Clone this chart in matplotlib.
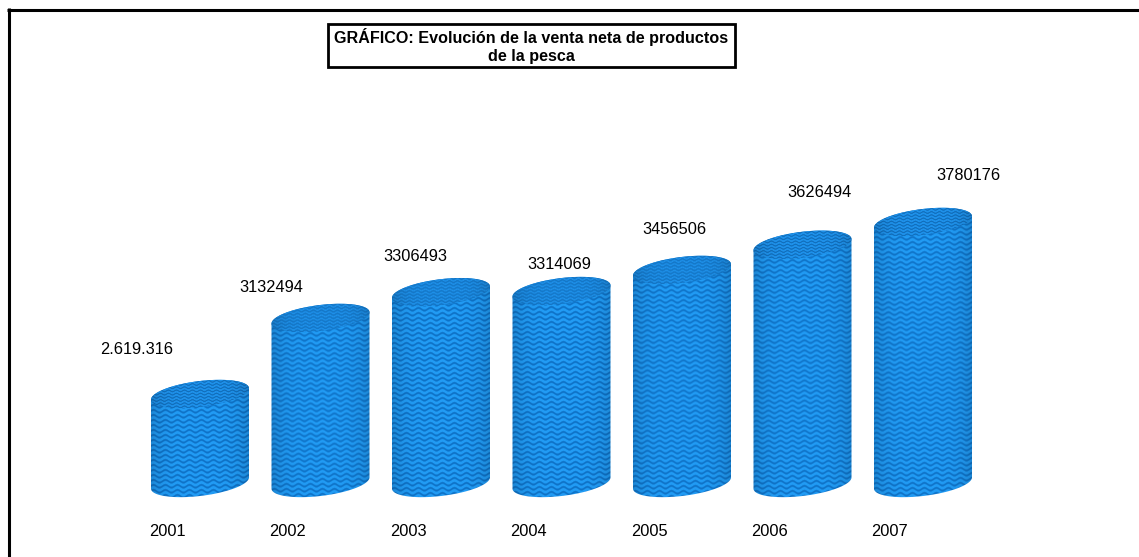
#!/usr/bin/env python3
"""Evolucion de la venta neta de productos de la pesca - textured 3D cylinders"""

import numpy as np
import matplotlib
matplotlib.use('Agg')
import matplotlib.pyplot as plt
from matplotlib.patches import Polygon, Rectangle

years = ['2001', '2002', '2003', '2004', '2005', '2006', '2007']
sales = [2619316, 3132494, 3306493, 3314069, 3456506, 3626494, 3780176]
sale_labels = ['2.619.316', '3132494', '3306493', '3314069', '3456506', '3626494', '3780176']

# label placement relative to the cylinder top, in pixels
label_dx = [-63, -49, -26, -2, -8, 17, 45]
label_dy = [-45, -31, -37, -28, -41, -53, -47]

W, H = 1139, 557
PX_PER_CAT = 120.5
PX_PER_UNIT = 148.2e-6
X0_PX = 200       # pixel position of the first category
REF_PY = 394      # pixel row of the first value
BASE_PY = 483     # pixel row of the cylinder base
HALF_W = 49
SEMI_MINOR = 13
SHEAR = 0.115

plt.rcParams['font.family'] = ['Liberation Sans', 'DejaVu Sans']

fig = plt.figure(figsize=(W / 100, H / 100), dpi=100)
ax = fig.add_axes([0, 0, 1, 1])
ax.axis('off')

xlim = (-X0_PX / PX_PER_CAT, (W - X0_PX) / PX_PER_CAT)
ylim = (sales[0] + (REF_PY - H) / PX_PER_UNIT, sales[0] + REF_PY / PX_PER_UNIT)
base_value = sales[0] + (REF_PY - BASE_PY) / PX_PER_UNIT


def dx(px):
    return np.asarray(px) / PX_PER_CAT


def dy(px):
    # pixel rows grow downwards, values grow upwards
    return -np.asarray(px) / PX_PER_UNIT


def rim(i, value, start=0.0, stop=2 * np.pi):
    """Sheared ellipse outline of a cylinder end, in data coordinates"""
    t = np.linspace(start, stop, 120)
    off_x = HALF_W * np.cos(t)
    off_y = SEMI_MINOR * np.sin(t) - SHEAR * off_x
    return np.column_stack([i + dx(off_x), value + dy(off_y)])


def texture(w, h, period, spacing, amp, light, dark):
    """Wavy weave pattern, a little darker at the cylinder edges"""
    xx, yy = np.meshgrid(np.arange(w), np.arange(h))
    wave = np.sin(2 * np.pi * (yy + amp * np.sin(2 * np.pi * xx / period)) / spacing)
    mix = np.clip(wave * 1.2 + 0.4, -1, 1)[..., None] * 0.5 + 0.5
    rgb = np.array(light) * mix + np.array(dark) * (1 - mix)
    edge = 1 - 0.14 * np.abs(np.linspace(-1, 1, w)) ** 4
    return rgb * edge[None, :, None]


for i, value in enumerate(sales):
    # side wall
    top_half = rim(i, value, np.pi, 2 * np.pi)
    bottom_half = rim(i, base_value, 0, np.pi)
    side = Polygon(np.vstack([top_half, bottom_half]), closed=True, fc='none', ec='none')
    ax.add_patch(side)
    box = [i + dx(-HALF_W - 1), i + dx(HALF_W + 1),
           base_value + dy(22), value + dy(-22)]
    h_px = int(round((box[3] - box[2]) * PX_PER_UNIT))
    img = ax.imshow(texture(HALF_W * 2 + 2, h_px, 12, 5.0, 1.3,
                            (0.13, 0.61, 0.96), (0.05, 0.43, 0.76)),
                    extent=box, aspect='auto', interpolation='bilinear', zorder=2)
    img.set_clip_path(side)

    # top lid
    lid = Polygon(rim(i, value), closed=True, fc='none', ec='none')
    ax.add_patch(lid)
    box = [i + dx(-HALF_W - 1), i + dx(HALF_W + 1), value + dy(22), value + dy(-22)]
    img = ax.imshow(texture(HALF_W * 2 + 2, 44, 8, 3.2, 0.8,
                            (0.12, 0.57, 0.92), (0.06, 0.42, 0.72)),
                    extent=box, aspect='auto', interpolation='bilinear', zorder=3)
    img.set_clip_path(lid)

    ax.text(i + dx(label_dx[i]), value + dy(label_dy[i] + 1), sale_labels[i],
            fontsize=11.8, ha='center', va='center', color='black', zorder=5)
    ax.text(i + dx(-33), ylim[0] + dy(-26), years[i],
            fontsize=11.8, ha='center', va='center', color='black', zorder=5)

ax.set_xlim(*xlim)
ax.set_ylim(*ylim)

# outer frame: left and top only, and the title box (figure fractions)
frame = dict(color='black', lw=2.2, transform=fig.transFigure, solid_capstyle='butt')
fig.add_artist(plt.Line2D([8.5 / W, 8.5 / W], [0, 1 - 8 / H], **frame))
fig.add_artist(plt.Line2D([7 / W, 1], [1 - 9.5 / H, 1 - 9.5 / H], **frame))

fig.add_artist(Rectangle((328.5 / W, 1 - 67 / H), 406 / W, 43.5 / H, fc='white', ec='black',
                         lw=2.0, transform=fig.transFigure))
fig.text(531.5 / W, 1 - 46 / H, 'GRÁFICO: Evolución de la venta neta de productos\nde la pesca',
         fontsize=11.6, fontweight='bold', ha='center', va='center', linespacing=1.18)

fig.savefig('out.png', dpi=100)
